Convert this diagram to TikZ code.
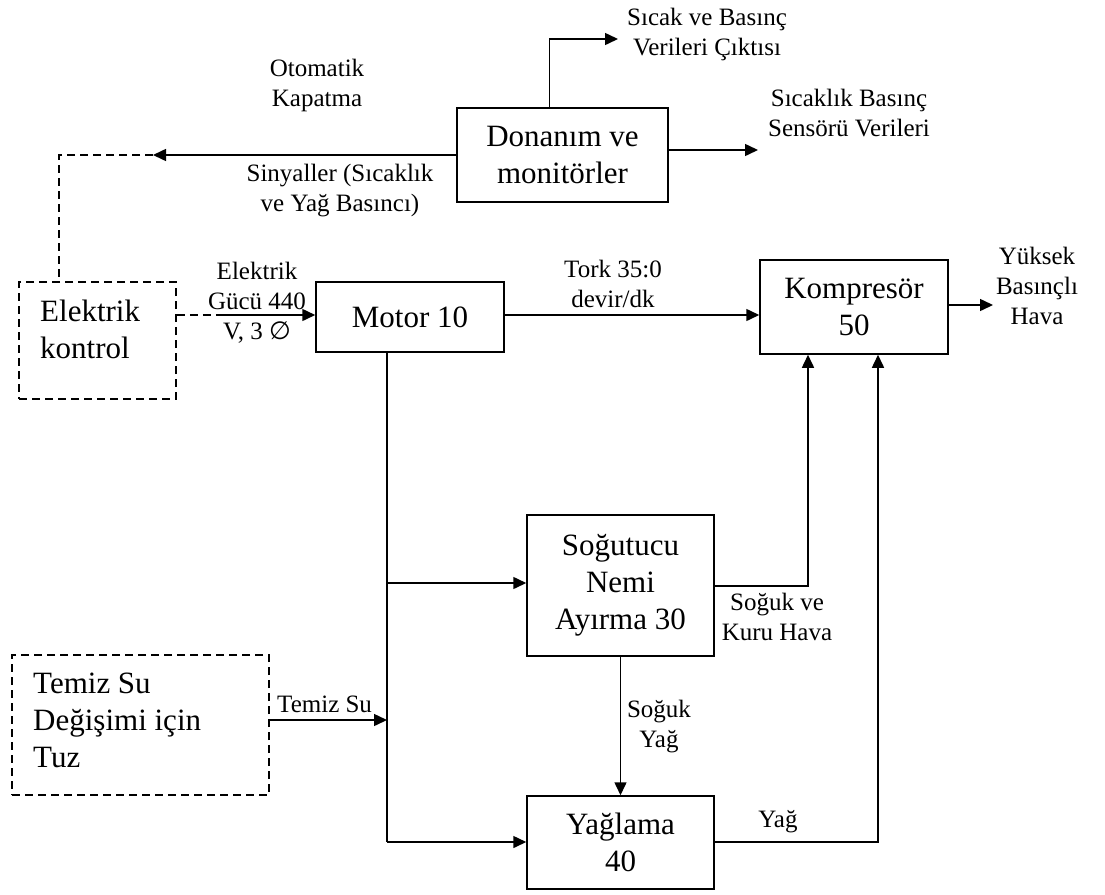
\documentclass[tikz,border=0pt]{standalone}
\usepackage{fontspec}
\setmainfont{Liberation Serif}
\newfontfamily\symfont{DejaVu Sans}
\usetikzlibrary{arrows.meta,calc}
\begin{document}
\begin{tikzpicture}[x=1pt,y=-1pt,
  box/.style={draw, line width=1.5pt, inner sep=0pt, align=center, font=\fontsize{31}{37}\selectfont},
  dbox/.style={draw, line width=1.5pt, dash pattern=on 8pt off 5pt, inner sep=0pt},
  btxt/.style={inner sep=0pt, align=left, anchor=west, font=\fontsize{31}{37}\selectfont},
  lbl/.style={inner sep=0pt, align=center, font=\fontsize{25}{30}\selectfont},
  conn/.style={line width=1.5pt},
  dconn/.style={line width=1.5pt, dash pattern=on 8pt off 5pt},
  arr/.style={conn, -{Triangle[length=13pt,width=12pt]}}
]
\useasboundingbox (0,0) rectangle (1105,894);

% boxes
\node[box, minimum width=211pt, minimum height=94pt] (don) at (562.5,155) {Donanım ve\\monitörler};
\node[dbox, minimum width=157pt, minimum height=117pt] (ek) at (97.5,340.5) {};
\node[btxt] (ektxt) at (40,329) {Elektrik\\kontrol};
\node[box, minimum width=188pt, minimum height=70pt] (motor) at (410,317) {Motor 10};
\node[box, minimum width=188pt, minimum height=94pt] (komp) at (854,307) {Kompresör\\50};
\node[box, minimum width=187pt, minimum height=141pt] (sog) at (620.5,585.5) {Soğutucu\\Nemi\\Ayırma 30};
\node[box, minimum width=187pt, minimum height=93pt] (yag) at (620.5,842.5) {Yağlama\\40};
\node[dbox, minimum width=257pt, minimum height=140pt] (tz) at (140.5,725) {};
\node[btxt] (tztxt) at (33,720) {Temiz Su\\Değişimi için\\Tuz};

% coordinates
\coordinate (sigend) at (153,155);
\coordinate (cornerA) at (59,155);
\coordinate (outA) at (618,39);
\coordinate (outB) at (758,150);
\coordinate (pw) at (218,315);
\coordinate (outC) at (993,305);
\coordinate (j1) at (387,583);
\coordinate (j2) at (387,842);
\coordinate (j3) at (387,720);
\coordinate (k1) at (808,586);
\coordinate (k2) at (878,842);

% connectors
\draw[arr] (don.west) -- (sigend);
\draw[dconn] (sigend) -- (cornerA) -- (cornerA |- ek.north);
\draw[arr] ($(don.north west)+(93,0)$) |- (outA);
\draw[arr] (don.east |- outB) -- (outB);
\draw[dconn] (ek.east |- pw) -- (pw);
\draw[arr] (pw) -- (motor.west |- pw);
\draw[arr] (motor.east |- pw) -- (komp.west |- pw);
\draw[arr] (komp.east |- outC) -- (outC);
\draw[conn] (motor.south -| j1) -- (j2);
\draw[arr] (j1) -- (sog.west |- j1);
\draw[arr] (j2) -- (yag.west |- j2);
\draw[arr] (tz.east |- j3) -- (j3);
\draw[arr] (sog.east |- k1) -- (k1) -- (k1 |- komp.south);
\draw[arr] (sog.south) -- (yag.north);
\draw[arr] (yag.east |- k2) -- (k2) -- (k2 |- komp.south);

% labels
\node[lbl] (lotom) at (317,85) {Otomatik\\Kapatma};
\node[lbl] (lsin) at (340,191) {Sinyaller (Sıcaklık\\ve Yağ Basıncı)};
\node[lbl] (lsicak) at (707,34) {Sıcak ve Basınç\\Verileri Çıktısı};
\node[lbl] (lsens) at (849,113.5) {Sıcaklık Basınç\\Sensörü Verileri};
\node[lbl] (lelek) at (257,302.5) {Elektrik\\Gücü 440\\V, 3 {\symfont ∅}};
\node[lbl] (ltork) at (613,284) {Tork 35:0\\devir/dk};
\node[lbl] (lyuk) at (1037,286) {Yüksek\\Basınçlı\\Hava};
\node[lbl] (lkuru) at (777,616.5) {Soğuk ve\\Kuru Hava};
\node[lbl] (lsy) at (659,727) {Soğuk\\Yağ};
\node[lbl] (lyag) at (778,822) {Yağ};
\node[lbl, anchor=base west] (ltemiz) at (277,712) {Temiz Su};
\end{tikzpicture}
\end{document}
